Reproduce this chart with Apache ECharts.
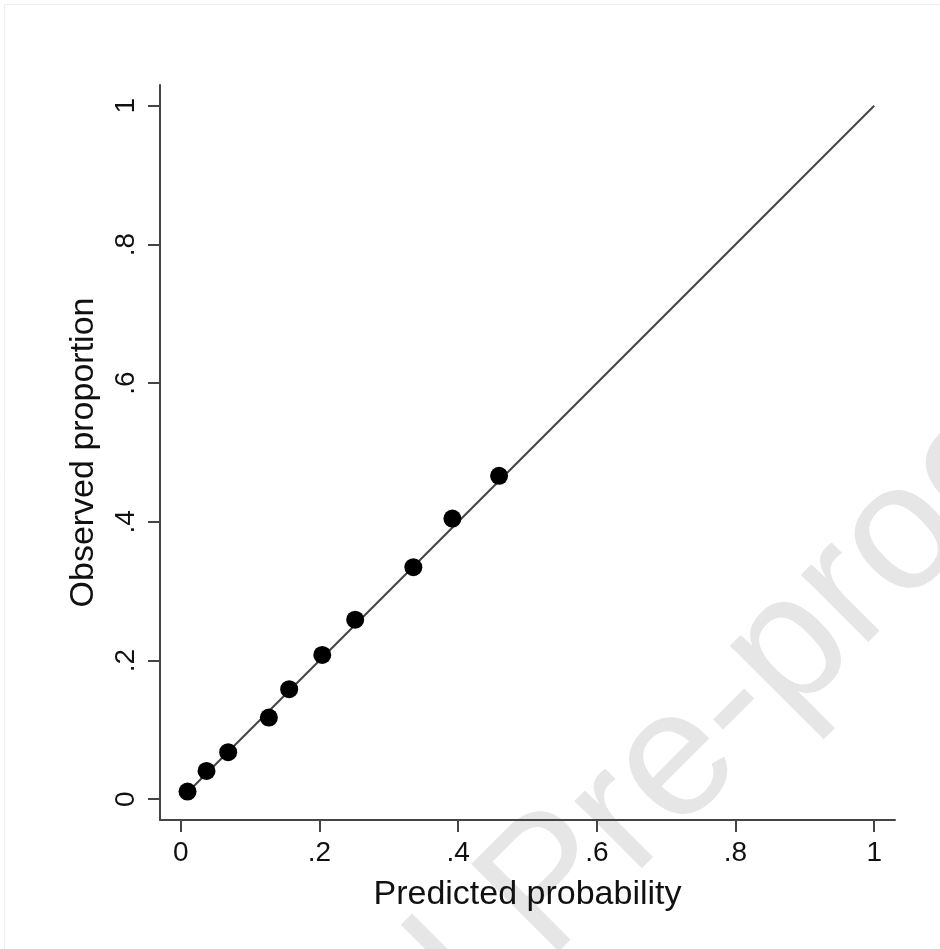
<!DOCTYPE html>
<html>
<head>
<meta charset="utf-8">
<script src="https://cdn.jsdelivr.net/npm/echarts@6/dist/echarts.min.js"></script>
<style>
html,body{margin:0;padding:0;background:#fff;}
#chart{width:940px;height:949px;}
</style>
</head>
<body>
<div id="chart"></div>
<script>
// Data
var predicted = [0.0097, 0.0371, 0.0683, 0.127, 0.1563, 0.204, 0.2515, 0.3354, 0.3917, 0.459];
var observed  = [0.011, 0.0408, 0.0678, 0.1177, 0.1587, 0.2081, 0.2589, 0.3346, 0.4047, 0.4663];
var refLineX = [0.01, 1];
var refLineY = [0.01, 1];
var tickValues = [0, 0.2, 0.4, 0.6, 0.8, 1];
var tickLabels = ['0', '.2', '.4', '.6', '.8', '1'];
var xTitle = 'Predicted probability';
var yTitle = 'Observed proportion';
var watermarkText = 'Journal Pre-proof';

var points = predicted.map(function (p, i) { return [p, observed[i]]; });
var refLine = refLineX.map(function (x, i) { return [x, refLineY[i]]; });

function labelFor(v) {
  for (var i = 0; i < tickValues.length; i++) {
    if (Math.abs(tickValues[i] - v) < 1e-9) return tickLabels[i];
  }
  return '';
}

var FONT = "'Liberation Sans', Arial, Helvetica, sans-serif";
var axisColor = '#444';

var chart = echarts.init(document.getElementById('chart'), null, {renderer: 'canvas'});
chart.setOption({
  backgroundColor: '#ffffff',
  animation: false,
  grid: {left: 160, right: 45, top: 85, bottom: 129, containLabel: false},
  xAxis: {
    type: 'value',
    min: -0.03, max: 1.03,
    name: xTitle,
    nameLocation: 'middle',
    nameGap: 58,
    nameTextStyle: {fontFamily: FONT, fontSize: 34, color: '#111'},
    axisLine: {show: true, onZero: false, lineStyle: {color: axisColor, width: 2}},
    axisTick: {show: true, length: 12, inside: false, customValues: tickValues, lineStyle: {color: axisColor, width: 2}},
    axisLabel: {show: true, customValues: tickValues, margin: 19, fontFamily: FONT, fontSize: 28, color: '#111', formatter: labelFor},
    splitLine: {show: false}
  },
  yAxis: {
    type: 'value',
    min: -0.03, max: 1.03,
    name: yTitle,
    nameLocation: 'middle',
    nameGap: 59,
    nameTextStyle: {fontFamily: FONT, fontSize: 34, color: '#111'},
    axisLine: {show: true, onZero: false, lineStyle: {color: axisColor, width: 2}},
    axisTick: {show: true, length: 12, inside: false, customValues: tickValues, lineStyle: {color: axisColor, width: 2}},
    axisLabel: {show: true, customValues: tickValues, rotate: 90, margin: 20, fontFamily: FONT, fontSize: 28, color: '#111', formatter: labelFor},
    splitLine: {show: false}
  },
  graphic: [
    {
      type: 'rect', z: -2, silent: true,
      shape: {x: 4.5, y: 4.5, width: 960, height: 960},
      style: {fill: null, stroke: '#eeeeee', lineWidth: 1}
    },
    {
      type: 'text', z: -1, silent: true,
      x: 552, y: 888,
      rotation: Math.PI / 4,
      style: {
        text: watermarkText,
        font: "180px 'Liberation Sans', Arial, sans-serif",
        fill: '#e6e6e6',
        align: 'center',
        verticalAlign: 'middle'
      }
    }
  ],
  series: [
    {
      type: 'line',
      data: refLine,
      symbol: 'none',
      lineStyle: {color: '#444', width: 2},
      z: 2
    },
    {
      type: 'scatter',
      data: points,
      symbol: 'circle',
      symbolSize: 18,
      itemStyle: {color: '#000', opacity: 1},
      z: 3
    }
  ]
});
</script>
</body>
</html>
